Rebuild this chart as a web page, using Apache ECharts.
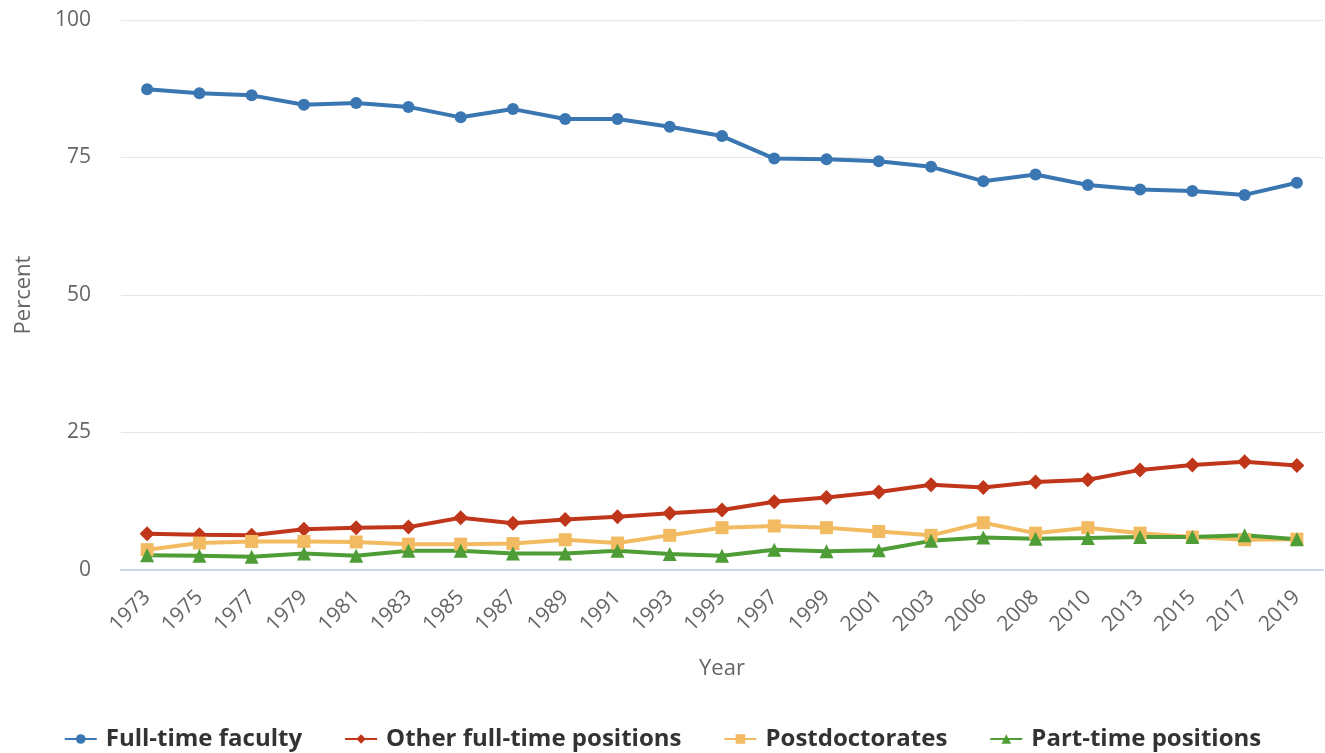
<!DOCTYPE html>
<html>
<head>
<meta charset="utf-8">
<script src="https://cdn.jsdelivr.net/npm/echarts@6/dist/echarts.min.js"></script>
<style>
html,body{margin:0;padding:0;background:#fff;}
#chart{width:1325px;height:753px;}
</style>
</head>
<body>
<div id="chart"></div>
<script>
const years = ["1973","1975","1977","1979","1981","1983","1985","1987","1989","1991","1993","1995","1997","1999","2001","2003","2006","2008","2010","2013","2015","2017","2019"];
const fullTimeFaculty = [87.4,86.7,86.3,84.6,84.9,84.2,82.3,83.8,82.0,82.0,80.6,78.9,74.8,74.7,74.3,73.3,70.7,71.9,70.0,69.2,68.9,68.2,70.4];
const otherFullTime = [6.6,6.4,6.3,7.4,7.7,7.8,9.5,8.5,9.2,9.7,10.3,10.9,12.4,13.2,14.2,15.5,15.0,16.0,16.4,18.2,19.1,19.7,19.0];
const postdoctorates = [3.7,4.9,5.2,5.2,5.1,4.7,4.7,4.8,5.5,4.9,6.3,7.7,8.0,7.7,7.0,6.3,8.6,6.7,7.7,6.7,6.0,5.5,5.6];
const partTime = [2.7,2.6,2.4,3.0,2.6,3.5,3.5,3.0,3.0,3.5,2.9,2.6,3.7,3.4,3.6,5.3,5.9,5.7,5.8,6.0,6.0,6.3,5.6];
const yTicks = [0,25,50,75,100];

const FONT = '"Open Sans", "Noto Sans", sans-serif';
const diamond = 'path://M0,-1L1,0L0,1L-1,0Z';

function mk(name, data, color, symbol, size) {
  return {
    name: name, type: 'line', data: data,
    symbol: symbol, symbolSize: size,
    lineStyle: {width: 4, color: color},
    itemStyle: {color: color},
    emphasis: {disabled: true},
    animation: false
  };
}

const chart = echarts.init(document.getElementById('chart'), null, {renderer: 'canvas'});
chart.setOption({
  backgroundColor: '#ffffff',
  animation: false,
  textStyle: {fontFamily: FONT},
  grid: {left: 121, right: 2, top: 20, bottom: 183, containLabel: false},
  legend: {
    left: 'center', top: 722, itemGap: 42, itemWidth: 32, itemHeight: 12,
    textStyle: {fontFamily: FONT, fontSize: 24, fontWeight: 'bold', color: '#333333', padding: [0,0,0,4]},
    data: ['Full-time faculty','Other full-time positions','Postdoctorates','Part-time positions']
  },
  xAxis: {
    type: 'category', data: years, boundaryGap: true,
    name: 'Year', nameLocation: 'middle', nameGap: 88,
    nameTextStyle: {fontFamily: FONT, fontSize: 22, color: '#666666'},
    axisLine: {lineStyle: {color: '#ccd6eb', width: 2}},
    axisTick: {alignWithLabel: true, length: 19, lineStyle: {color: '#ccd6eb', width: 2}},
    axisLabel: {rotate: 45, margin: 24, fontFamily: FONT, fontSize: 21, color: '#666666', interval: 0},
    splitLine: {show: false}
  },
  yAxis: {
    type: 'value', min: yTicks[0], max: yTicks[yTicks.length-1], interval: 25,
    name: 'Percent', nameLocation: 'middle', nameGap: 86, nameRotate: 90,
    nameTextStyle: {fontFamily: FONT, fontSize: 22, color: '#666666'},
    axisLine: {show: false}, axisTick: {show: false},
    axisLabel: {margin: 30, fontFamily: FONT, fontSize: 21, color: '#666666'},
    splitLine: {lineStyle: {color: '#e6e6e6', width: 1}}
  },
  series: [
    mk('Full-time faculty', fullTimeFaculty, '#3a76b1', 'circle', 12),
    mk('Other full-time positions', otherFullTime, '#c0361a', diamond, 15),
    mk('Postdoctorates', postdoctorates, '#f2bb61', 'rect', 13),
    mk('Part-time positions', partTime, '#4e9d36', 'triangle', 14)
  ]
});
</script>
</body>
</html>
